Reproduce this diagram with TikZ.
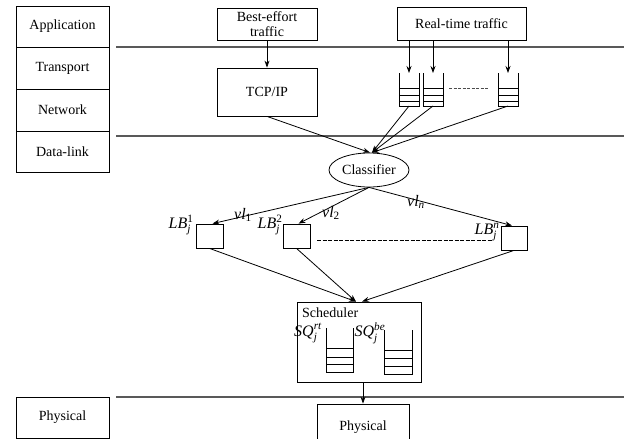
\documentclass[tikz,border=0pt]{standalone}
\usepackage{fontspec}
\usepackage{amsmath}
\setmainfont{Liberation Serif}
\usetikzlibrary{shapes.geometric,arrows.meta}
\begin{document}
\begin{tikzpicture}[x=1pt,y=-1pt,
  every node/.style={font=\fontsize{14}{15.5}\selectfont},
  box/.style={draw,line width=0.8pt,inner sep=0pt,align=center},
  layer/.style={box,minimum width=93pt},
  sep/.style={line width=1.2pt,black!65},
  arr/.style={line width=0.8pt,-{Stealth[length=7pt,width=5pt]}},
  ln/.style={line width=0.8pt},
  mlab/.style={font=\fontsize{16}{18}\selectfont,inner sep=0pt}]
\useasboundingbox (0,0) rectangle (624,439);
% protocol stack
\node[layer,minimum height=41pt] (app) at (62.5,26.5) {Application};
\node[layer,minimum height=42pt] (tra) at (62.5,68) {Transport};
\node[layer,minimum height=42pt] (net) at (62.5,110) {Network};
\node[layer,minimum height=41pt] (dl) at (62.5,151.5) {Data-link};
\node[layer,minimum height=41pt] (phl) at (62.5,417.5) {Physical};
% separators
\draw[sep] (116,47) -- (624,47);
\draw[sep] (116,136) -- (624,136);
\draw[sep] (116,397) -- (624,397);
% traffic sources
\node[box,minimum width=100pt,minimum height=32pt] (be) at (267,24) {Best-effort\\traffic};
\node[box,minimum width=129pt,minimum height=33pt] (rt) at (461.5,23.5) {Real-time traffic};
\node[box,minimum width=100pt,minimum height=48pt] (tcp) at (267,92) {TCP/IP};
\draw[arr] (be) -- (tcp);
% real-time queues
\foreach \n/\x in {1/409,2/433,3/508}{
  \coordinate (q\n t) at (\x,73);
  \coordinate (q\n b) at (\x,106);
  \draw[ln] (\x-10,73) -- (\x-10,106) -- (\x+10,106) -- (\x+10,73);
  \foreach \y in {88,95,101} \draw[ln] (\x-10,\y) -- (\x+10,\y);
}
\draw[ln,black!70,dash pattern=on 3pt off 1.5pt] (449,88) -- (489,88);
\foreach \n in {1,2,3} \draw[arr] (rt.south -| q\n t) -- (q\n t);
% classifier
\node[draw,ellipse,line width=0.8pt,minimum width=80pt,minimum height=34pt,inner sep=0pt] (cl) at (369,170) {Classifier};
\draw[arr] (tcp.south) -- ([xshift=1pt]cl.north);
\foreach \n in {1,2,3} \draw[arr] (q\n b) -- ([xshift=3pt]cl.north);
% leaky buckets
\node[box,minimum width=27pt,minimum height=24pt] (lb1) at (209.5,236) {};
\node[box,minimum width=27pt,minimum height=24pt] (lb2) at (296.5,236) {};
\node[box,minimum width=26pt,minimum height=24pt] (lbn) at (514,238) {};
\draw[arr] (cl.south) -- ([xshift=3pt]lb1.north);
\draw[arr] (cl.south) -- ([xshift=2pt]lb2.north);
\draw[arr] (cl.south) -- ([xshift=-2pt]lbn.north);
\draw[ln,dash pattern=on 4pt off 1.5pt] (317,240) -- (493,240);
\node[mlab] (l1) at (181,225) {$\textit{LB}_{\textit{j}}^{\textrm{1}}$};
\node[mlab] (l2) at (270,225) {$\textit{LB}_{\textit{j}}^{\textrm{2}}$};
\node[mlab] (ln) at (487,232) {$\textit{LB}_{\textit{j}}^{\textit{n}}$};
\node[mlab] (v1) at (243,215) {$\textit{vl}_{\textrm{1}}$};
\node[mlab] (v2) at (331,213) {$\textit{vl}_{\textrm{2}}$};
\node[mlab] (vn) at (416,202) {$\textit{vl}_{\textit{n}}$};
% scheduler
\node[box,minimum width=124pt,minimum height=80pt] (sch) at (359,342) {};
\node[anchor=west,inner sep=0pt] (schl) at (302,313) {Scheduler};
\node[mlab] (sqrt) at (308,333) {$\textit{SQ}_{\textit{j}}^{\textit{rt}}$};
\node[mlab] (sqbe) at (370,333) {$\textit{SQ}_{\textit{j}}^{\textit{be}}$};
\draw[ln] (326,328) -- (326,372) -- (353,372) -- (353,328);
\foreach \y in {348,357,364} \draw[ln] (326,\y) -- (353,\y);
\draw[ln] (384,330) -- (384,374) -- (412,374) -- (412,330);
\foreach \y in {350,358,366} \draw[ln] (384,\y) -- (412,\y);
\draw[arr] (lb1.south) -- ([xshift=-3pt]sch.north);
\draw[arr] (lb2.south) -- ([xshift=-3pt]sch.north);
\draw[arr] (lbn.south) -- ([xshift=3pt]sch.north);
% physical
\node[box,minimum width=92pt,minimum height=46pt] (ph) at (363,427) {Physical};
\draw[arr] (ph.north |- sch.south) -- (ph.north);
\end{tikzpicture}
\end{document}
